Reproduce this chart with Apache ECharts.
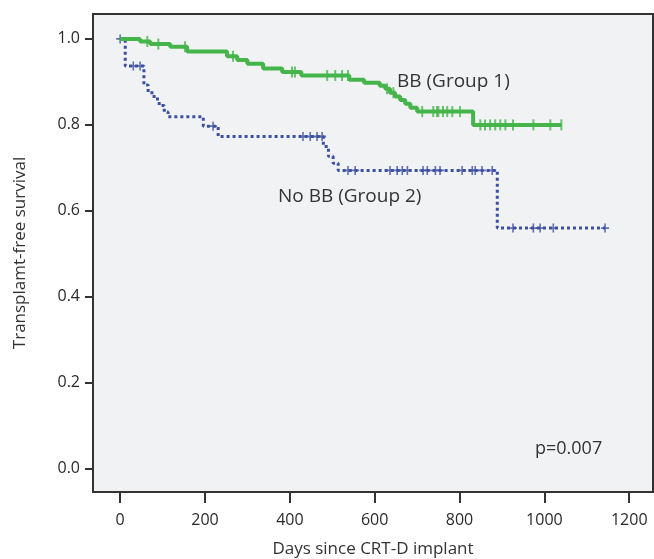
<!DOCTYPE html>
<html>
<head>
<meta charset="utf-8">
<script src="https://cdn.jsdelivr.net/npm/echarts@6/dist/echarts.min.js"></script>
<style>html,body{margin:0;padding:0;background:#fff;}#c{width:654px;height:559px;}</style>
</head>
<body>
<div id="c"></div>
<script>
// Group 1 (BB) Kaplan-Meier steps
const bbDays = [0, 47, 71, 118, 158, 252, 276, 300, 337, 382, 427, 540, 575, 612, 625, 636, 648, 660, 672, 684, 700, 832, 1040];
const bbSurv = [1.0, 0.994, 0.988, 0.982, 0.971, 0.960, 0.951, 0.942, 0.931, 0.923, 0.915, 0.905, 0.898, 0.891, 0.884, 0.875, 0.866, 0.858, 0.849, 0.840, 0.831, 0.800, 0.800];
// Group 1 censored observations
const bbCensDays = [64, 90, 153, 266, 405, 412, 488, 507, 523, 537, 629, 644, 712, 738, 747, 750, 761, 771, 783, 801, 849, 860, 872, 884, 896, 908, 926, 974, 1014, 1040];
const bbCensSurv = [0.994, 0.988, 0.982, 0.960, 0.923, 0.923, 0.915, 0.915, 0.915, 0.915, 0.884, 0.875, 0.831, 0.831, 0.831, 0.831, 0.831, 0.831, 0.831, 0.831, 0.800, 0.800, 0.800, 0.800, 0.800, 0.800, 0.800, 0.800, 0.800, 0.800];
// Group 2 (No BB) Kaplan-Meier steps
const nobbDays = [0, 12, 56, 66, 80, 92, 104, 113, 196, 231, 479, 491, 502, 514, 889, 1143];
const nobbSurv = [1.0, 0.937, 0.893, 0.875, 0.860, 0.845, 0.830, 0.819, 0.797, 0.773, 0.750, 0.727, 0.711, 0.694, 0.560, 0.560];
// Group 2 censored observations
const nobbCensDays = [0, 31, 47, 219, 431, 448, 464, 476, 537, 554, 636, 653, 665, 677, 714, 724, 743, 754, 806, 830, 837, 853, 877, 926, 974, 990, 1021, 1143];
const nobbCensSurv = [1.0, 0.937, 0.937, 0.797, 0.773, 0.773, 0.773, 0.773, 0.694, 0.694, 0.694, 0.694, 0.694, 0.694, 0.694, 0.694, 0.694, 0.694, 0.694, 0.694, 0.694, 0.694, 0.694, 0.560, 0.560, 0.560, 0.560, 0.560];
// Axis ticks
const xTicks = [0, 200, 400, 600, 800, 1000, 1200];
const yTicks = [0.0, 0.2, 0.4, 0.6, 0.8, 1.0];

const labels = {
  g1: 'BB (Group 1)',
  g2: 'No BB (Group 2)',
  p: 'p=0.007',
  x: 'Days since CRT-D implant',
  y: 'Transplamt-free survival'
};

const zip = (a, b) => a.map((v, i) => [v, b[i]]);
const GREEN = '#45b54b';
const BLUE = '#3c4fa0';
const FONT = 'Open Sans';
const plus = 'path://M4,0H6V4H10V6H6V10H4V6H0V4H4Z';
const vtick = 'path://M0,0H2V10H0Z';

const chart = echarts.init(document.getElementById('c'), null, {renderer: 'canvas'});
chart.setOption({
  animation: false,
  grid: {left: 93, right: 1, top: 14, bottom: 67, containLabel: false, outerBoundsMode: 'none',
         show: true, backgroundColor: '#f1f2f3', borderColor: '#333', borderWidth: 2},
  xAxis: {
    type: 'value', min: -64, max: 1256,
    name: labels.x, nameLocation: 'middle', nameGap: 49,
    nameTextStyle: {fontFamily: FONT, fontSize: 17, color: '#333'},
    axisLine: {show: false, onZero: false},
    axisTick: {show: true, length: 11, customValues: xTicks, lineStyle: {color: '#333', width: 2}},
    axisLabel: {customValues: xTicks, fontFamily: FONT, fontSize: 16, color: '#2a2a2a', margin: 20, formatter: v => String(v)},
    splitLine: {show: false}
  },
  yAxis: {
    type: 'value', min: -0.054, max: 1.058,
    name: labels.y, nameLocation: 'middle', nameGap: 64,
    nameTextStyle: {fontFamily: FONT, fontSize: 17, color: '#333'},
    axisLine: {show: false, onZero: false},
    axisTick: {show: true, length: 8, customValues: yTicks, lineStyle: {color: '#333', width: 2}},
    axisLabel: {customValues: yTicks, fontFamily: FONT, fontSize: 16, color: '#2a2a2a', margin: 13, formatter: v => v.toFixed(1)},
    splitLine: {show: false}
  },
  series: [
    {type: 'line', step: 'end', data: zip(nobbDays, nobbSurv), showSymbol: false, z: 2,
     lineStyle: {color: BLUE, width: 3, type: [3, 3]}},
    {type: 'scatter', data: zip(nobbCensDays, nobbCensSurv), symbol: plus, symbolSize: [8, 9], z: 3,
     itemStyle: {color: BLUE}},
    {type: 'line', step: 'end', data: zip(bbDays, bbSurv), showSymbol: false, z: 4,
     lineStyle: {color: GREEN, width: 4}},
    {type: 'scatter', data: zip(bbCensDays, bbCensSurv), symbol: vtick, symbolSize: [2, 11], z: 5,
     itemStyle: {color: GREEN}}
  ],
  graphic: [
    {type: 'text', left: 397, top: 72, style: {text: labels.g1, font: '19px "Open Sans"', fill: '#333'}},
    {type: 'text', left: 278, top: 187, style: {text: labels.g2, font: '19px "Open Sans"', fill: '#333'}},
    {type: 'text', left: 535, top: 440, style: {text: labels.p, font: '18px "Open Sans"', fill: '#333'}}
  ]
});
</script>
</body>
</html>
